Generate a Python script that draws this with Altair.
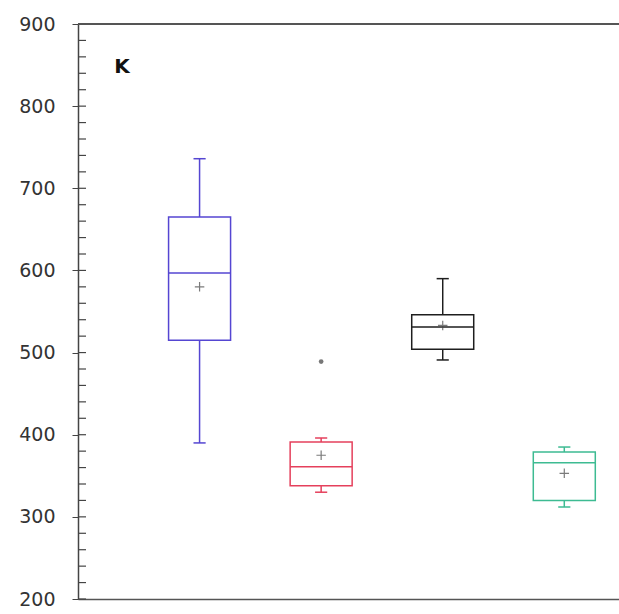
import altair as alt
import pandas as pd

# Summary statistics for the four groups (K concentration)
groups = ["G1", "G2", "G3", "G4"]
positions = [1, 2, 3, 4]
whisker_low = [390, 330, 491, 312]
q1 = [515, 338, 504, 320]
median = [597, 361, 531, 366]
q3 = [665, 391, 546, 379]
whisker_high = [736, 396, 590, 385]
means = [580, 375, 533, 353]
colors = ["#5546d2", "#e5405c", "#1e1e1e", "#3dbb92"]

outlier_group = ["G2"]
outlier_pos = [2]
outlier_value = [489]

y_ticks = [200, 300, 400, 500, 600, 700, 800, 900]
minor_ticks = list(range(200, 901, 20))

W, H = 541, 575

df = pd.DataFrame({
    "group": groups, "pos": positions, "lo": whisker_low, "q1": q1,
    "med": median, "q3": q3, "hi": whisker_high, "mean": means,
})
out_df = pd.DataFrame({"group": outlier_group, "pos": outlier_pos, "v": outlier_value})
tick_df = pd.DataFrame({"t": minor_ticks})

xs = alt.Scale(domain=[0, 4.45], nice=False, zero=False)
ys = alt.Scale(domain=[200, 900], nice=False, zero=False)
cs = alt.Scale(domain=groups, range=colors)

x_axis = alt.Axis(labels=False, ticks=False, title=None, grid=False,
                  domainColor="#555", domainWidth=1.5)
y_axis = alt.Axis(values=y_ticks, title=None, grid=False, tickSize=6,
                  tickColor="#444", domainColor="#444", domainWidth=1.5,
                  labelFontSize=19, labelColor="#333", labelPadding=17,
                  labelFont="DejaVu Sans")

base = alt.Chart(df).transform_calculate(
    xl="datum.pos - 0.255", xr="datum.pos + 0.255",
    cl="datum.pos - 0.05", cr="datum.pos + 0.05",
)

whisk = base.mark_rule(strokeWidth=1.5).encode(
    x=alt.X("pos:Q", scale=xs, axis=x_axis),
    y=alt.Y("lo:Q", scale=ys, axis=y_axis),
    y2="hi:Q",
    color=alt.Color("group:N", scale=cs, legend=None),
)

box = base.mark_rect(fill="white", strokeWidth=1.5).encode(
    x=alt.X("xl:Q", scale=xs), x2="xr:Q",
    y=alt.Y("q1:Q", scale=ys), y2="q3:Q",
    stroke=alt.Color("group:N", scale=cs, legend=None),
)

med = base.mark_rule(strokeWidth=1.5).encode(
    x=alt.X("xl:Q", scale=xs), x2="xr:Q",
    y=alt.Y("med:Q", scale=ys),
    color=alt.Color("group:N", scale=cs, legend=None),
)

cap_lo = base.mark_rule(strokeWidth=1.5).encode(
    x=alt.X("cl:Q", scale=xs), x2="cr:Q",
    y=alt.Y("lo:Q", scale=ys),
    color=alt.Color("group:N", scale=cs, legend=None),
)
cap_hi = base.mark_rule(strokeWidth=1.5).encode(
    x=alt.X("cl:Q", scale=xs), x2="cr:Q",
    y=alt.Y("hi:Q", scale=ys),
    color=alt.Color("group:N", scale=cs, legend=None),
)

mean_pt = base.mark_point(
    shape="M-1,0L1,0M0,-1L0,1", size=90, strokeWidth=1.2,
    color="#444", filled=False,
).encode(
    x=alt.X("pos:Q", scale=xs), y=alt.Y("mean:Q", scale=ys),
)

outl = alt.Chart(out_df).mark_circle(size=22, color="#777", opacity=1).encode(
    x=alt.X("pos:Q", scale=xs), y=alt.Y("v:Q", scale=ys),
)

inner_ticks = alt.Chart(tick_df).mark_rule(color="#444", strokeWidth=1.2).encode(
    x=alt.value(0), x2=alt.value(8), y=alt.Y("t:Q", scale=ys),
)

top_line = alt.Chart(df).mark_rule(color="#555", strokeWidth=1.5).encode(
    x=alt.value(0), x2=alt.value(W), y=alt.value(0),
)

label = alt.Chart(pd.DataFrame({"t": ["K"]})).mark_text(
    fontSize=20, fontWeight="bold", font="DejaVu Sans", color="#111",
).encode(text="t:N", x=alt.value(44), y=alt.value(43))

chart = alt.layer(
    whisk, box, med, cap_lo, cap_hi, mean_pt, outl, inner_ticks, top_line, label
).properties(
    width=W, height=H,
    autosize=alt.AutoSizeParams(type="none"),
    padding={"left": 78, "top": 24, "right": 0, "bottom": 15},
    background="white",
).configure_view(stroke="transparent", strokeOpacity=0)

chart.save("out.html", embed_options={"renderer": "svg", "actions": False})
